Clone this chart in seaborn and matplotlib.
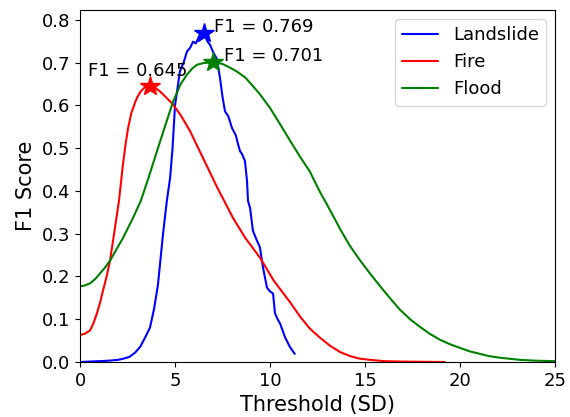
import numpy as np
import pandas as pd
import matplotlib
matplotlib.use("Agg")
import matplotlib.pyplot as plt
import seaborn as sns

landslide_x = [0, 1, 1.5, 2, 2.3, 2.6, 2.9, 3.16, 3.4, 3.68, 3.9, 4.1, 4.37, 4.57, 4.74, 4.87,
               5.0, 5.26, 5.45, 5.63, 5.8, 5.95, 6.1, 6.3, 6.53, 6.7, 6.84, 7.0, 7.2, 7.37, 7.5,
               7.63, 7.8, 8.0, 8.2, 8.32, 8.42, 8.53, 8.68, 8.79, 8.84, 8.95, 9.1, 9.3, 9.47,
               9.63, 9.84, 10.0, 10.16, 10.26, 10.4, 10.53, 10.79, 11.05, 11.3]
landslide_y = [0, 0.002, 0.003, 0.005, 0.008, 0.012, 0.022, 0.035, 0.055, 0.08, 0.125, 0.18,
               0.30, 0.377, 0.43, 0.50, 0.60, 0.68, 0.70, 0.726, 0.735, 0.749, 0.745, 0.765,
               0.769, 0.75, 0.742, 0.725, 0.709, 0.663, 0.62, 0.586, 0.575, 0.547, 0.53, 0.509,
               0.493, 0.486, 0.47, 0.423, 0.377, 0.36, 0.307, 0.285, 0.268, 0.221, 0.174, 0.165,
               0.16, 0.114, 0.10, 0.09, 0.058, 0.035, 0.019]

fire_x = [0, 0.25, 0.53, 0.7, 0.89, 1.05, 1.21, 1.4, 1.58, 1.84, 2.05, 2.26, 2.4, 2.53, 2.7,
          2.89, 3.0, 3.2, 3.4, 3.68, 3.9, 4.2, 4.5, 4.9, 5.3, 5.79, 6.3, 7.2, 8.05, 8.7, 9.47,
          10.2, 11.05, 11.6, 12.1, 12.6, 13.16, 13.7, 14.2, 14.7, 15.26, 16.0, 17.0, 18.0, 19.2]
fire_y = [0.063, 0.066, 0.074, 0.09, 0.114, 0.138, 0.167, 0.2, 0.237, 0.314, 0.377, 0.462,
          0.51, 0.547, 0.582, 0.606, 0.618, 0.633, 0.642, 0.645, 0.643, 0.633, 0.62, 0.602,
          0.577, 0.54, 0.493, 0.41, 0.337, 0.29, 0.244, 0.19, 0.14, 0.105, 0.078, 0.058, 0.038,
          0.023, 0.014, 0.008, 0.005, 0.002, 0.001, 0.0005, 0.0]

flood_x = [0, 0.25, 0.53, 0.8, 1.05, 1.3, 1.58, 2.26, 2.79, 3.2, 3.6, 4.05, 4.5, 4.9, 5.3, 5.63,
           5.9, 6.16, 6.5, 7.0, 7.5, 7.9, 8.26, 8.7, 9.1, 9.47, 10.0, 10.53, 11.05, 11.58, 12.1,
           12.6, 13.16, 13.7, 14.2, 14.7, 15.26, 15.8, 16.3, 16.8, 17.37, 17.9, 18.4, 18.95,
           19.5, 20, 20.5, 21.05, 21.5, 22.1, 23.16, 24.0, 25]
flood_y = [0.177, 0.179, 0.184, 0.194, 0.207, 0.22, 0.237, 0.29, 0.337, 0.377, 0.43, 0.493,
           0.555, 0.609, 0.65, 0.672, 0.686, 0.695, 0.699, 0.701, 0.697, 0.688, 0.679, 0.665,
           0.645, 0.626, 0.594, 0.556, 0.518, 0.48, 0.445, 0.40, 0.355, 0.31, 0.272, 0.24,
           0.207, 0.177, 0.15, 0.124, 0.10, 0.082, 0.066, 0.052, 0.041, 0.033, 0.025, 0.019,
           0.014, 0.01, 0.005, 0.003, 0.002]

hazards = ["Landslide", "Fire", "Flood"]
colors = ["blue", "red", "green"]
best_x = [6.53, 3.68, 7.0]
best_f1 = [0.769, 0.645, 0.701]

df = pd.concat([
    pd.DataFrame({"Threshold": landslide_x, "F1": landslide_y, "Hazard": "Landslide"}),
    pd.DataFrame({"Threshold": fire_x, "F1": fire_y, "Hazard": "Fire"}),
    pd.DataFrame({"Threshold": flood_x, "F1": flood_y, "Hazard": "Flood"}),
])

sns.set_style("ticks")
plt.rcParams.update({"text.color": "black", "axes.labelcolor": "black",
                     "xtick.color": "black", "ytick.color": "black",
                     "axes.edgecolor": "black"})
fig = plt.figure(figsize=(5.7, 4.17), dpi=100)
ax = fig.add_axes([0.1404, 0.1319, 0.8333, 0.8441])

sns.lineplot(data=df, x="Threshold", y="F1", hue="Hazard", hue_order=hazards,
             palette=dict(zip(hazards, colors)), estimator=None, sort=False,
             linewidth=1.5, ax=ax)

offsets = [((10, 6), "left"), ((-12, 15), "center"), ((11, 6), "left")]
for bx, by, c, (off, ha) in zip(best_x, best_f1, colors, offsets):
    ax.plot([bx], [by], marker="*", color=c, markersize=15, linestyle="none")
    ax.annotate(f"F1 = {by:.3f}", (bx, by), xytext=off, textcoords="offset pixels",
                ha=ha, va="center", fontsize=13, color="black")

ax.set_xlim(0, 25)
ax.set_ylim(0, 0.823)
ax.set_yticks(np.arange(0, 0.81, 0.1))
ax.set_xlabel("Threshold (SD)", fontsize=15)
ax.set_ylabel("F1 Score", fontsize=15)
ax.tick_params(labelsize=13)
for s in ax.spines.values():
    s.set_visible(True)
    s.set_color("black")
leg = ax.legend(title=None, loc="upper right", fontsize=13)
for t in leg.get_texts():
    t.set_color("black")

fig.savefig("out.png", dpi=100)
